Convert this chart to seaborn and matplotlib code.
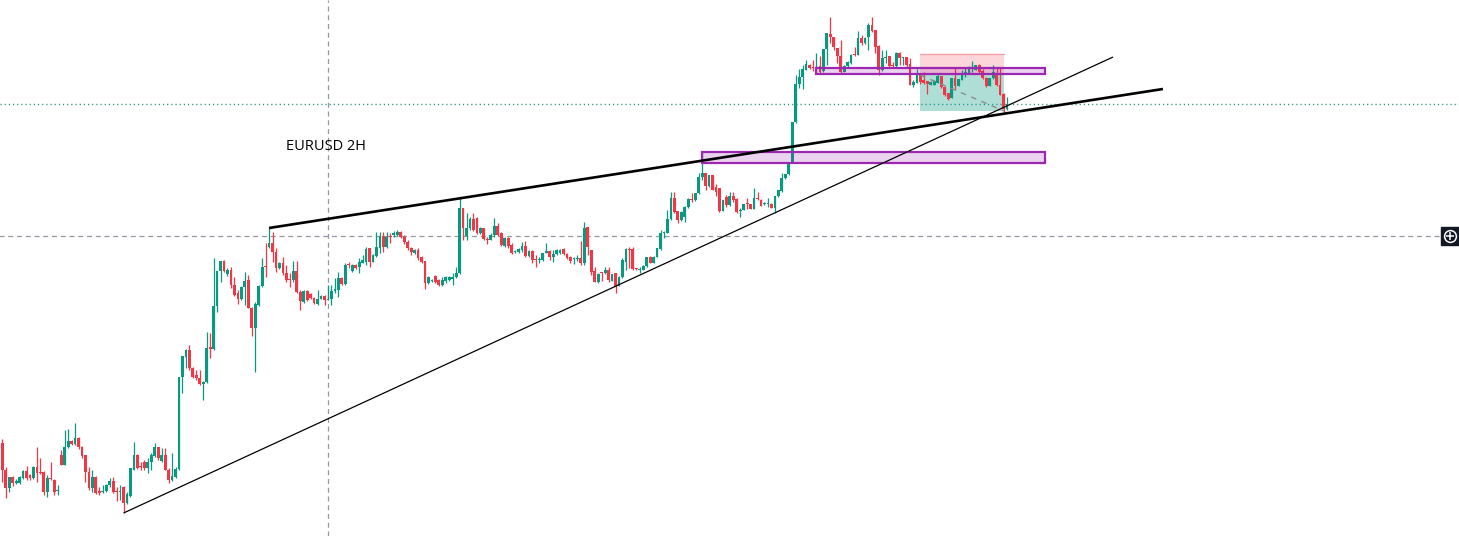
import numpy as np
import pandas as pd
import seaborn as sns
import matplotlib.pyplot as plt
from matplotlib.patches import Rectangle

# EURUSD 2H candles, quoted as the last four digits (557 -> 1.0557)
opens = [
    557, 530, 512, 523, 517, 517, 522, 529, 525, 522,
    533, 528, 528, 508, 522, 520, 509, 545, 535, 553,
    559, 556, 562, 553, 545, 528, 512, 523, 509, 508,
    509, 515, 519, 509, 508, 513, 497, 504, 530, 545,
    534, 538, 532, 538, 544, 553, 539, 545, 530, 520,
    523, 531, 623, 643, 650, 632, 625, 622, 616, 618,
    653, 651, 694, 729, 739, 726, 730, 715, 707, 701,
    713, 720, 692, 672, 695, 714, 734, 753, 757, 748,
    732, 737, 727, 721, 720, 729, 708, 698, 709, 706,
    702, 696, 701, 704, 700, 701, 709, 710, 722, 716,
    736, 729, 735, 733, 737, 738, 752, 738, 744, 752,
    764, 753, 764, 765, 765, 768, 763, 758, 752, 747,
    750, 743, 739, 717, 719, 724, 720, 715, 719, 720,
    721, 723, 727, 792, 764, 772, 781, 782, 767, 772,
    761, 760, 765, 774, 767, 754, 762, 755, 748, 748,
    750, 754, 744, 749, 741, 740, 740, 747, 749, 743,
    746, 747, 751, 746, 743, 741, 741, 742, 737, 773,
    750, 729, 718, 728, 727, 730, 719, 727, 714, 723,
    738, 751, 751, 732, 730, 730, 734, 743, 737, 743,
    751, 767, 767, 781, 802, 789, 780, 783, 793, 801,
    800, 807, 823, 827, 814, 825, 813, 812, 789, 803,
    795, 804, 801, 789, 790, 797, 796, 791, 802, 800,
    796, 796, 796, 792, 804, 809, 822, 826, 837, 878,
    916, 923, 930, 935, 933, 931, 934, 929, 951, 966,
    963, 952, 944, 928, 934, 937, 946, 945, 962, 957,
    963, 975, 970, 954, 930, 942, 944, 935, 934, 947,
    942, 943, 936, 915, 917, 925, 920, 919, 915, 915,
    917, 924, 913, 907, 902, 922, 914, 920, 926, 927,
    932, 930, 935, 929, 922, 914, 922, 927, 915, 906,
    891,
]
closes = [
    530, 512, 523, 517, 519, 523, 529, 522, 522, 533,
    527, 527, 508, 522, 521, 508, 510, 535, 553, 559,
    556, 562, 553, 544, 528, 512, 523, 507, 507, 509,
    515, 519, 508, 508, 509, 497, 506, 532, 545, 532,
    533, 532, 538, 545, 553, 542, 545, 530, 520, 524,
    531, 623, 644, 650, 632, 623, 622, 616, 618, 652,
    651, 694, 729, 739, 729, 730, 715, 705, 701, 713,
    719, 692, 672, 696, 714, 733, 733, 757, 748, 732,
    737, 727, 720, 720, 729, 708, 699, 709, 700, 702,
    697, 701, 704, 700, 701, 709, 711, 722, 716, 735,
    735, 735, 732, 738, 740, 751, 738, 745, 753, 764,
    753, 763, 763, 767, 768, 763, 758, 752, 748, 750,
    742, 738, 717, 723, 720, 718, 715, 720, 723, 723,
    723, 727, 792, 772, 772, 781, 770, 767, 772, 761,
    760, 765, 774, 765, 755, 762, 754, 747, 749, 751,
    754, 744, 749, 740, 740, 741, 747, 749, 743, 746,
    750, 750, 746, 742, 739, 742, 742, 737, 772, 753,
    728, 718, 726, 727, 730, 720, 726, 713, 723, 740,
    751, 750, 731, 731, 731, 734, 743, 737, 743, 752,
    767, 768, 781, 802, 788, 780, 788, 793, 801, 800,
    807, 823, 827, 814, 825, 810, 808, 789, 800, 795,
    804, 800, 788, 790, 796, 796, 791, 802, 801, 794,
    797, 797, 792, 804, 810, 822, 826, 837, 878, 916,
    923, 931, 936, 932, 932, 932, 928, 951, 967, 963,
    953, 944, 928, 934, 938, 945, 945, 962, 957, 962,
    975, 969, 953, 930, 942, 943, 934, 934, 947, 942,
    943, 935, 915, 918, 925, 918, 917, 916, 918, 919,
    924, 913, 905, 901, 922, 914, 921, 927, 928, 933,
    933, 935, 928, 922, 914, 922, 928, 915, 905, 891,
    896,
]
highs = [
    561, 533, 523, 524, 521, 524, 530, 534, 526, 534,
    553, 542, 529, 525, 538, 521, 515, 550, 570, 571,
    560, 577, 563, 554, 545, 533, 530, 524, 513, 515,
    516, 522, 523, 513, 515, 514, 508, 532, 558, 546,
    538, 540, 542, 547, 557, 553, 552, 552, 532, 547,
    533, 623, 644, 651, 655, 633, 630, 630, 619, 668,
    667, 742, 729, 739, 740, 732, 733, 723, 710, 714,
    728, 725, 693, 698, 715, 742, 757, 772, 768, 752,
    738, 743, 735, 727, 739, 739, 710, 710, 710, 707,
    703, 710, 705, 705, 715, 715, 722, 728, 723, 737,
    738, 736, 736, 742, 745, 753, 752, 746, 768, 768,
    768, 768, 767, 769, 770, 769, 765, 760, 753, 751,
    752, 744, 739, 724, 721, 725, 721, 723, 724, 724,
    727, 733, 803, 792, 787, 783, 787, 783, 773, 772,
    763, 767, 782, 777, 768, 763, 763, 757, 750, 752,
    758, 759, 750, 750, 745, 743, 747, 757, 750, 750,
    751, 751, 752, 747, 744, 743, 745, 759, 778, 773,
    750, 733, 727, 728, 733, 733, 726, 727, 724, 742,
    752, 753, 753, 732, 733, 735, 743, 744, 744, 752,
    770, 769, 790, 808, 808, 789, 789, 794, 802, 807,
    807, 827, 848, 827, 825, 825, 816, 812, 800, 805,
    808, 808, 802, 792, 796, 802, 796, 812, 808, 801,
    798, 802, 797, 804, 810, 827, 826, 837, 878, 925,
    931, 935, 940, 936, 940, 947, 944, 951, 967, 983,
    963, 952, 960, 935, 939, 946, 953, 969, 965, 963,
    977, 983, 970, 955, 950, 950, 944, 938, 948, 948,
    943, 943, 942, 920, 931, 927, 928, 919, 919, 920,
    927, 924, 914, 907, 922, 932, 921, 930, 933, 934,
    939, 935, 936, 931, 923, 922, 935, 933, 933, 907,
    903,
]
lows = [
    518, 502, 508, 514, 516, 516, 521, 520, 520, 521,
    518, 526, 505, 503, 520, 505, 505, 535, 535, 552,
    555, 555, 551, 542, 518, 510, 508, 506, 505, 507,
    508, 513, 507, 499, 500, 487, 496, 503, 530, 531,
    530, 530, 527, 530, 543, 540, 538, 530, 517, 519,
    522, 530, 607, 632, 630, 622, 620, 615, 600, 617,
    642, 650, 688, 718, 728, 724, 712, 704, 696, 700,
    695, 692, 664, 628, 694, 713, 723, 752, 738, 728,
    731, 725, 718, 713, 718, 707, 690, 697, 699, 701,
    696, 695, 701, 695, 700, 695, 707, 703, 715, 715,
    732, 728, 731, 727, 737, 735, 733, 738, 743, 747,
    748, 752, 757, 763, 764, 762, 756, 750, 745, 746,
    740, 737, 711, 716, 718, 717, 714, 714, 717, 719,
    715, 722, 726, 760, 760, 770, 769, 766, 766, 760,
    756, 760, 763, 764, 754, 753, 752, 746, 747, 747,
    748, 743, 743, 737, 733, 737, 739, 747, 740, 738,
    745, 746, 745, 741, 737, 736, 739, 735, 735, 745,
    725, 718, 717, 719, 726, 718, 719, 707, 714, 722,
    730, 732, 730, 730, 727, 730, 733, 737, 737, 743,
    750, 762, 767, 780, 787, 777, 779, 778, 792, 798,
    799, 806, 820, 810, 813, 810, 804, 788, 789, 793,
    794, 798, 787, 783, 790, 791, 791, 791, 800, 794,
    795, 793, 792, 787, 803, 808, 821, 825, 837, 877,
    912, 911, 930, 931, 929, 927, 927, 928, 935, 957,
    950, 937, 927, 928, 933, 936, 944, 945, 955, 956,
    950, 968, 947, 925, 929, 937, 933, 933, 933, 935,
    935, 932, 915, 913, 917, 916, 916, 906, 915, 915,
    917, 912, 904, 900, 902, 910, 914, 920, 923, 926,
    928, 930, 927, 921, 913, 914, 921, 914, 905, 887,
    890,
]

# drawings on the chart (bar index, price)
trend_thick = [(77, 1.0772), (335.0, 1.0911)]
trend_thin = [(35, 1.0487), (320.6, 1.0943)]
zone_low = (202, 301.0, 1.0837, 1.0848)
zone_high = (234.9, 301.0, 1.0926, 1.0932)
position = (264.9, 289.1, 1.0946, 1.0925, 1.0889)  # start, end, target, entry, stop
cross_x, cross_y = 94.0, 1.0764

GREEN = "#089981"
RED = "#f23645"
PURPLE = "#9c27b0"

df = pd.DataFrame({"o": opens, "h": highs, "l": lows, "c": closes})
df = 1.0 + df / 10000.0
df["h"] = df[["o", "h", "c"]].max(axis=1)
df["l"] = df[["o", "l", "c"]].min(axis=1)
df["i"] = np.arange(len(df))
df["up"] = df["c"] >= df["o"]
df["col"] = np.where(df["up"], GREEN, RED)

sns.set_theme(style="white")
plt.rcParams["font.family"] = ["Open Sans", "DejaVu Sans"]

fig = plt.figure(figsize=(14.59, 5.36), dpi=100)
ax = fig.add_axes([0, 0, 1, 1])
ax.set_xlim(-0.664, 420.46)
ax.set_ylim(1.0464, 1.1000)
ax.axis("off")

# crosshair
ax.axvline(cross_x, color="#9598a1", lw=0.9, dashes=(4, 3), zorder=1)
ax.plot([-1, 415.6], [cross_y, cross_y], color="#9598a1", lw=0.9, dashes=(4, 3), zorder=1)

# candles
ax.vlines(df["i"], df["l"], df["h"], colors=df["col"], lw=0.9, zorder=3)
body = (df["c"] - df["o"]).abs().clip(lower=0.00009)
ax.bar(df["i"], body, bottom=df[["o", "c"]].min(axis=1), width=0.8,
       color=df["col"], linewidth=0, zorder=4)

# last price line
ax.axhline(df["c"].iloc[-1], color="#1e8c78", lw=1.0, dashes=(0.8, 2.2), zorder=2)

# position tool
p0, p1, tgt, ent, stp = position
ax.add_patch(Rectangle((p0, ent), p1 - p0, tgt - ent, facecolor=RED, alpha=0.2,
                       edgecolor="none", zorder=2))
ax.plot([p0, p1], [tgt, tgt], color="#f5a0a6", lw=1.0, zorder=2)
ax.add_patch(Rectangle((p0, stp), p1 - p0, ent - stp, facecolor=GREEN, alpha=0.32,
                       edgecolor="none", zorder=2))
ax.plot([p0, p1], [ent, stp], color="#8c8c8c", lw=1.0, dashes=(4, 4), zorder=5)

# zones
for x0, x1, y0, y1 in (zone_low, zone_high):
    ax.add_patch(Rectangle((x0, y0), x1 - x0, y1 - y0, facecolor=PURPLE, alpha=0.2,
                           edgecolor="none", zorder=5))
    ax.add_patch(Rectangle((x0, y0), x1 - x0, y1 - y0, facecolor="none",
                           edgecolor=PURPLE, lw=1.6, zorder=6))

# trend lines
xs, ys = zip(*trend_thick)
ax.plot(xs, ys, color="black", lw=1.9, zorder=6, solid_capstyle="butt")
xs, ys = zip(*trend_thin)
ax.plot(xs, ys, color="black", lw=0.9, zorder=6, solid_capstyle="butt")

ax.text(81.9, 1.0853, "EURUSD 2H", fontsize=10.5, color="black",
        ha="left", va="center", zorder=7)

# crosshair "+" button at the right edge
ax.plot([418.0], [cross_y], marker="s", ms=13, color="#131722", zorder=8, clip_on=False)
ax.plot([418.0], [cross_y], marker="o", ms=8.5, mfc="none", mec="white", mew=1.1, zorder=9)
ax.plot([418.0], [cross_y], marker="+", ms=5.5, color="white", mew=1.1, zorder=9)

fig.savefig("out.png", dpi=100, facecolor="white")
